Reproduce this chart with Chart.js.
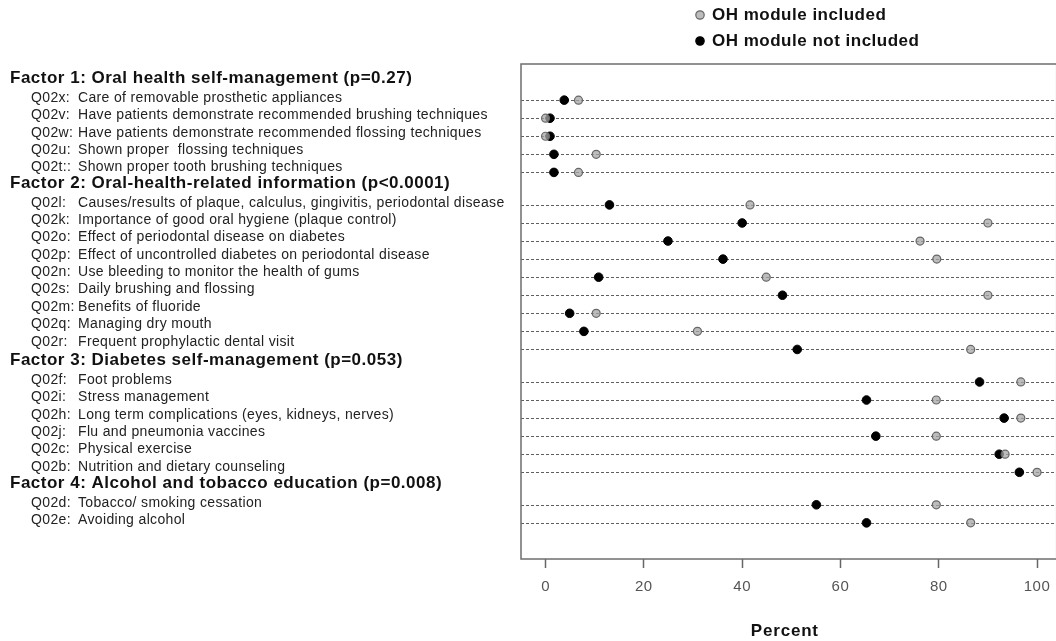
<!DOCTYPE html>
<html>
<head>
<meta charset="utf-8">
<title>OH module dot chart</title>
<script src="https://cdn.jsdelivr.net/npm/chart.js@4.4.1/dist/chart.umd.min.js"></script>
<style>
    html, body { margin: 0; padding: 0; background: #fff; overflow: hidden; }
    #wrap { position: relative; width: 1062px; height: 641px; }
</style>
</head>
<body>
<div id="wrap"><canvas id="dotChart"></canvas></div>
<script>
const seriesNames = ["OH module included", "OH module not included"];

const groupTitles = [
    "Factor 1: Oral health self-management (p=0.27)",
    "Factor 2: Oral-health-related information (p<0.0001)",
    "Factor 3: Diabetes self-management (p=0.053)",
    "Factor 4: Alcohol and tobacco education (p=0.008)"
];
const groupSizes = [5, 9, 6, 2];

const itemCodes = [
    "Q02x:", "Q02v:", "Q02w:", "Q02u:", "Q02t::",
    "Q02l:", "Q02k:", "Q02o:", "Q02p:", "Q02n:", "Q02s:", "Q02m:", "Q02q:", "Q02r:",
    "Q02f:", "Q02i:", "Q02h:", "Q02j:", "Q02c:", "Q02b:",
    "Q02d:", "Q02e:"
];
const itemLabels = [
    "Care of removable prosthetic appliances",
    "Have patients demonstrate recommended brushing techniques",
    "Have patients demonstrate recommended flossing techniques",
    "Shown proper  flossing techniques",
    "Shown proper tooth brushing techniques",
    "Causes/results of plaque, calculus, gingivitis, periodontal disease",
    "Importance of good oral hygiene (plaque control)",
    "Effect of periodontal disease on diabetes",
    "Effect of uncontrolled diabetes on periodontal disease",
    "Use bleeding to monitor the health of gums",
    "Daily brushing and flossing",
    "Benefits of fluoride",
    "Managing dry mouth",
    "Frequent prophylactic dental visit",
    "Foot problems",
    "Stress management",
    "Long term complications (eyes, kidneys, nerves)",
    "Flu and pneumonia vaccines",
    "Physical exercise",
    "Nutrition and dietary counseling",
    "Tobacco/ smoking cessation",
    "Avoiding alcohol"
];

const includedValues = [
    6.7, 0, 0, 10.3, 6.7,
    41.6, 90, 76.2, 79.6, 44.9, 90, 10.3, 30.9, 86.5,
    96.7, 79.5, 96.7, 79.5, 93.5, 100,
    79.5, 86.5
];
const notIncludedValues = [
    3.8, 0.9, 0.9, 1.7, 1.7,
    13, 40, 24.9, 36.1, 10.8, 48.2, 4.9, 7.8, 51.2,
    88.3, 65.3, 93.3, 67.2, 92.3, 96.4,
    55.1, 65.3
];

const xTicks = [0, 20, 40, 60, 80, 100];

const fontFamily = "'Liberation Sans', Arial, Helvetica, sans-serif";
const lineColor = "#5f5f5f";

// row positions: one line per item, a spacer between factor groups
const rowY = [];
const labelY = [];
const headerY = [];
let cursor = 2;
groupSizes.forEach((n) => {
    headerY.push(cursor - 1.2);
    for (let i = 0; i < n; i++) {
        rowY.push(cursor + i);
        labelY.push(cursor + i * 0.96);   // text lines sit a little tighter than the dots
    }
    cursor += n - 1 + 1.8;
});
const yMax = rowY[rowY.length - 1] + 2;

const toPoints = (values) => values.map((v, i) => ({ x: v, y: rowY[i] }));

const rowLines = {
    id: "rowLines",
    beforeDatasetsDraw(chart) {
        const { ctx, chartArea, scales } = chart;
        ctx.save();
        ctx.strokeStyle = lineColor;
        ctx.lineWidth = 1;
        ctx.setLineDash([3, 2]);
        rowY.forEach((r) => {
            const y = Math.round(scales.y.getPixelForValue(r)) + 0.5;
            ctx.beginPath();
            ctx.moveTo(chartArea.left, y);
            ctx.lineTo(chartArea.right, y);
            ctx.stroke();
        });
        ctx.setLineDash([]);
        ctx.strokeStyle = "#6e6e6e";
        ctx.lineWidth = 1.5;
        ctx.strokeRect(chartArea.left, chartArea.top, chartArea.right - chartArea.left, chartArea.bottom - chartArea.top);
        ctx.restore();
    }
};

const sideText = {
    id: "sideText",
    beforeDraw(chart) {
        chart.ctx.letterSpacing = "0.5px";
    },
    afterDraw(chart) {
        const { ctx, chartArea, scales } = chart;
        ctx.save();
        ctx.textBaseline = "middle";
        ctx.textAlign = "left";
        ctx.fillStyle = "#111";

        ctx.letterSpacing = "0.5px";
        ctx.font = "bold 17px " + fontFamily;
        groupTitles.forEach((t, g) => {
            ctx.fillText(t, 10, scales.y.getPixelForValue(headerY[g]));
        });

        ctx.letterSpacing = "0.35px";
        ctx.font = "14px " + fontFamily;
        ctx.fillStyle = "#222";
        itemLabels.forEach((t, i) => {
            const y = scales.y.getPixelForValue(labelY[i]) - 2;
            ctx.fillText(itemCodes[i], 31, y);
            ctx.fillText(t, 78, y);
        });

        // x axis title
        ctx.letterSpacing = "0.8px";
        ctx.font = "bold 17px " + fontFamily;
        ctx.fillStyle = "#111";
        ctx.textAlign = "center";
        ctx.fillText("Percent", (chartArea.left + chartArea.right) / 2 - 4, 631);

        // legend, top right
        ctx.letterSpacing = "0.5px";
        ctx.textAlign = "left";
        const sets = chart.data.datasets;
        [15, 41].forEach((y, k) => {
            const ds = sets[k];
            ctx.beginPath();
            ctx.arc(700, y, 4.2, 0, Math.PI * 2);
            ctx.fillStyle = ds.backgroundColor;
            ctx.fill();
            ctx.lineWidth = 1.2;
            ctx.strokeStyle = ds.borderColor;
            ctx.stroke();
            ctx.fillStyle = "#111";
            ctx.fillText(seriesNames[k], 712, y);
        });
        ctx.restore();
    }
};

new Chart(document.getElementById("dotChart"), {
    type: "scatter",
    data: {
        datasets: [
            {
                label: seriesNames[0],
                data: toPoints(includedValues),
                backgroundColor: "rgba(165, 165, 165, 0.75)",
                borderColor: "#666666",
                borderWidth: 1.2,
                pointRadius: 4,
                pointHoverRadius: 4
            },
            {
                label: seriesNames[1],
                data: toPoints(notIncludedValues),
                backgroundColor: "#000000",
                borderColor: "#000000",
                borderWidth: 1,
                pointRadius: 4.3,
                pointHoverRadius: 4.3
            }
        ]
    },
    options: {
        responsive: true,
        maintainAspectRatio: false,
        animation: false,
        layout: { padding: { top: 64, left: 521, right: 4, bottom: 0 } },
        plugins: {
            legend: { display: false },
            tooltip: { enabled: false }
        },
        scales: {
            x: {
                type: "linear",
                position: "bottom",
                min: -5,
                max: 104,
                border: { display: false },
                grid: {
                    display: true,
                    drawOnChartArea: false,
                    drawTicks: true,
                    tickLength: 9,
                    tickColor: "#666",
                    tickWidth: 1.5
                },
                ticks: {
                    color: "#555",
                    font: { family: fontFamily, size: 15 },
                    padding: 10,
                    maxRotation: 0
                },
                afterBuildTicks: (scale) => {
                    scale.ticks = xTicks.map((v) => ({ value: v }));
                },
                afterFit: (scale) => {
                    scale.height = 82;
                }
            },
            y: {
                type: "linear",
                display: false,
                reverse: true,
                min: 0,
                max: yMax
            }
        }
    },
    plugins: [rowLines, sideText]
});
</script>
</body>
</html>
